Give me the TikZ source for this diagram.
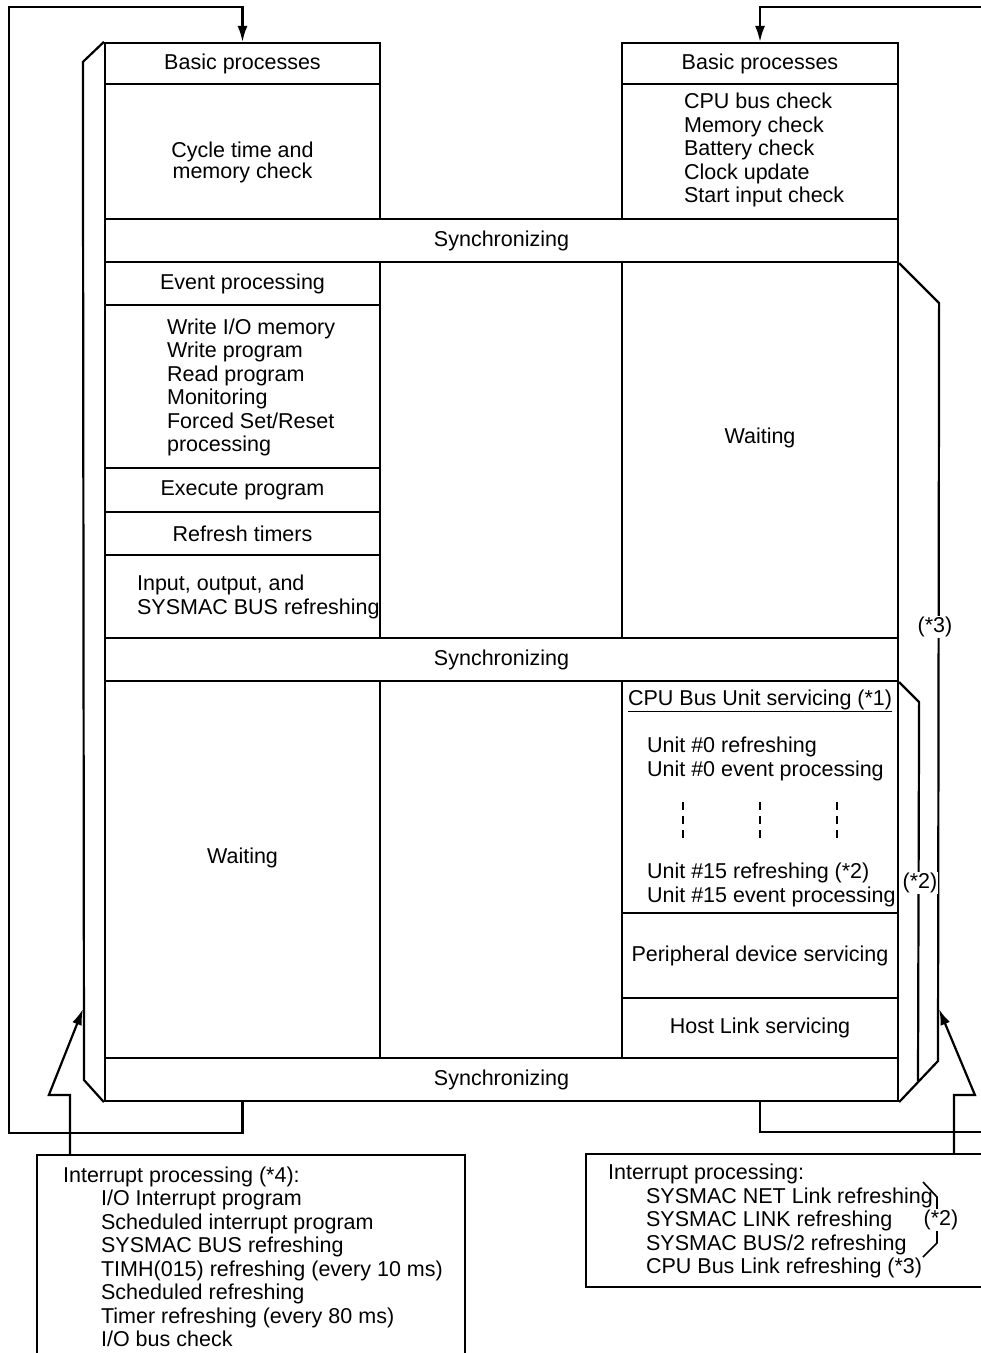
\documentclass[tikz,border=0pt]{standalone}
\usepackage{fontspec}
\setmainfont{Liberation Sans}
\usetikzlibrary{arrows.meta}

\begin{document}
\begin{tikzpicture}[x=1pt,y=-1pt,line width=2.2pt,>={Latex[length=16pt,width=10pt]},
  font=\fontsize{21.5}{23.5}\selectfont,
  cell/.style={draw,inner sep=0pt,align=center},
  txt/.style={inner sep=0pt,anchor=west,align=left},
  note/.style={fill=white,inner sep=1pt}]
  \useasboundingbox (0,0) rectangle (981,1353);
  \foreach \n/\x/\y/\w/\h/\t in {
      lbasic/242.5/63.5/275/41/{Basic processes},
      lcheck/242.5/151.5/275/135/{},
      rbasic/760/63.5/276/41/{Basic processes},
      rcheck/760/151.5/276/135/{},
      sync1/501.5/240.5/793/43/{Synchronizing},
      levent/242.5/283.5/275/43/{Event processing},
      lwrite/242.5/386.5/275/163/{},
      lexec/242.5/490/275/44/{Execute program},
      ltimer/242.5/533.5/275/43/{Refresh timers},
      lrefresh/242.5/596.5/275/83/{},
      rwait/760/450/276/376/{},
      sync2/501.5/659.5/793/43/{Synchronizing},
      lwait/242.5/869.5/275/377/{},
      rcpu/760/797/276/232/{},
      rperiph/760/955.5/276/85/{Peripheral device servicing},
      rhost/760/1028/276/60/{Host Link servicing},
      sync3/501.5/1079.5/793/43/{Synchronizing}}
    \node[cell,minimum width=\w pt,minimum height=\h pt] (\n) at (\x,\y) {\t};
  \node[align=center,inner sep=0pt,font=\fontsize{21.5}{21}\selectfont] (lchecktxt) at (242.5,162) {Cycle time and\\memory check};
  \node[txt] (rchecktxt) at (683,150) {CPU bus check\\Memory check\\Battery check\\Clock update\\Start input check};
  \node[txt] (lwritetxt) at (166,387.5) {Write I/O memory\\Write program\\Read program\\Monitoring\\Forced Set/Reset\\processing};
  \node[txt] (lrefreshtxt) at (136,597) {Input, output, and\\SYSMAC BUS refreshing};
  \node (rwaittxt) at ([yshift=12pt]rwait.center) {Waiting};
  \node (lwaittxt) at ([yshift=12pt]lwait.center) {Waiting};
  \node[txt] (rcpuhead) at (627,701) {\underline{CPU Bus Unit servicing (*1)}};
  \node[txt] (unitzero) at (646,759) {Unit \#0 refreshing\\Unit \#0 event processing};
  \foreach \x in {683,760,837}
    \draw[dash pattern=on 8pt off 6pt] (\x,802) -- (\x,838);
  \node[txt] (unitlast) at (646,885) {Unit \#15 refreshing (*2)\\Unit \#15 event processing};
  \draw (lbasic.north west) -- ++(-21,20) -- (84,1080) -- (sync3.south west);
  \draw (sync1.south east) -- ++(40,40) -- (938,1061) -- (sync3.south east);
  \draw (sync2.south east) -- ++(20,20) -- (918,1081);
  \node[note] (star3) at (935,627) {(*3)};
  \node[note] (star2) at (920,883) {(*2)};
  \coordinate (lcorner) at (9,7);
  \coordinate (rtop) at (990,7);
  \coordinate (rbot) at (990,1132);
  \draw[->] (lwait.south |- sync3.south) -- ++(0,31) -| (lcorner) -| (lbasic.north);
  \draw (rhost.south |- sync3.south) |- (rbot);
  \draw[->] (rtop) -| (rbasic.north);
  \node[draw,minimum width=428pt,minimum height=245pt,inner sep=0pt] (intl) at (251,1277.5) {};
  \node[draw,minimum width=424pt,minimum height=133pt,inner sep=0pt] (intr) at (798,1220.5) {};
  \node[txt] (intltxt) at (62,1257) {Interrupt processing (*4):\\
    \hspace*{38pt}I/O Interrupt program\\
    \hspace*{38pt}Scheduled interrupt program\\
    \hspace*{38pt}SYSMAC BUS refreshing\\
    \hspace*{38pt}TIMH(015) refreshing (every 10 ms)\\
    \hspace*{38pt}Scheduled refreshing\\
    \hspace*{38pt}Timer refreshing (every 80 ms)\\
    \hspace*{38pt}I/O bus check};
  \node[txt] (intrtxt) at (607,1221) {Interrupt processing:\\
    \hspace*{38pt}SYSMAC NET Link refreshing\\
    \hspace*{38pt}SYSMAC LINK refreshing\\
    \hspace*{38pt}SYSMAC BUS/2 refreshing\\
    \hspace*{38pt}CPU Bus Link refreshing (*3)};
  \coordinate (ltip) at (83,1009);
  \coordinate (rtip) at (939,1009);
  \draw[->] ([xshift=34pt]intl.north west) -- ++(0,-59) -- ++(-21,0) -- (ltip);
  \draw[->] ([xshift=369pt]intr.north west) -- ++(0,-58) -- ++(21,0) -- (rtip);
  \draw[line width=1.6pt] (923,1182) -- (937,1197) -- (937,1243) -- (923,1257);
  \node[note] (bracenote) at (941,1220) {(*2)};
\end{tikzpicture}
\end{document}
